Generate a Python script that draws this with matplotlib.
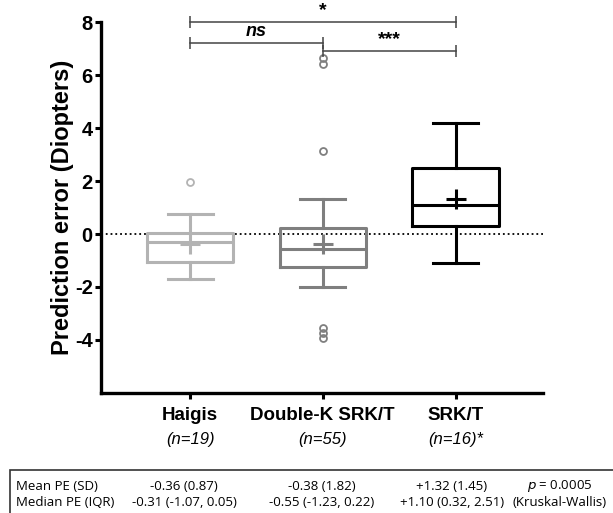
import matplotlib
matplotlib.use("Agg")
import matplotlib.pyplot as plt
import matplotlib.patches as patches

plt.rcParams['font.family'] = ['Liberation Sans', 'DejaVu Sans']
plt.rcParams['axes.unicode_minus'] = False

# data
groups = ['Haigis', 'Double-K SRK/T', 'SRK/T']
n_labels = ['(n=19)', '(n=55)', '(n=16)*']
medians = [-0.31, -0.55, 1.10]
q1s = [-1.07, -1.23, 0.32]
q3s = [0.05, 0.22, 2.51]
whis_lo = [-1.68, -2.0, -1.08]
whis_hi = [0.75, 1.33, 4.2]
means = [-0.36, -0.38, 1.32]
outliers = [[1.97], [6.65, 6.42, 3.15, -3.55, -3.72, -3.92], []]
colors = ['#b3b3b3', '#7f7f7f', '#000000']

# significance brackets: (from group, to group, height, label, italic)
brackets = [(1, 3, 8.0, '*', False), (1, 2, 7.2, 'ns', True), (2, 3, 6.9, '***', False)]

table_rows = ['Mean PE (SD)', 'Median PE (IQR)']
table_cells = [['-0.36 (0.87)', '-0.38 (1.82)', '+1.32 (1.45)', r'$\it{p}$ = 0.0005'],
               ['-0.31 (-1.07, 0.05)', '-0.55 (-1.23, 0.22)', '+1.10 (0.32, 2.51)', '(Kruskal-Wallis)']]

fig = plt.figure(figsize=(6.13, 5.13), dpi=100)
ax = fig.add_axes([0.165, 0.234, 0.721, 0.723])

for i in range(3):
    st = [{'med': medians[i], 'q1': q1s[i], 'q3': q3s[i], 'whislo': whis_lo[i],
           'whishi': whis_hi[i], 'mean': means[i], 'fliers': outliers[i]}]
    c = colors[i]
    ax.bxp(st, positions=[i + 1], widths=0.65, showmeans=True, patch_artist=False,
           boxprops=dict(color=c, lw=2.2), medianprops=dict(color=c, lw=2.2),
           whiskerprops=dict(color=c, lw=2.2), capprops=dict(color=c, lw=2.2),
           capwidths=0.34,
           meanprops=dict(marker='+', markeredgecolor=c, markersize=14, markeredgewidth=2.2),
           flierprops=dict(marker='o', markerfacecolor='none', markeredgecolor=c,
                           markersize=5, markeredgewidth=1.3))

ax.axhline(0, color='black', ls=':', lw=1.3, zorder=0)

for a, b, h, lab, it in brackets:
    ax.plot([a, b], [h, h], color='#444444', lw=1.1, marker='|', markersize=8,
            markeredgewidth=1.1, clip_on=False)
    ax.text((a + b) / 2, h + 0.12, lab, ha='center', va='bottom',
            fontsize=13 if it else 14, fontweight='bold',
            style='italic' if it else 'normal', color='black', clip_on=False)

ax.set_xlim(0.33, 3.66)
ax.set_ylim(-6, 8)
ax.set_yticks([-4, -2, 0, 2, 4, 6, 8])
ax.set_xticks([1, 2, 3])
ax.set_xticklabels(groups, fontsize=13.5, fontweight='bold')
for lbl in ax.get_yticklabels():
    lbl.set_fontweight('bold')
    lbl.set_fontsize(14.5)
ax.set_ylabel('Prediction error (Diopters)', fontsize=17, fontweight='bold', labelpad=1)
ax.tick_params(axis='both', width=2.2, length=4, direction='out')
ax.tick_params(axis='y', pad=2)
ax.tick_params(axis='x', pad=6)
for s in ['top', 'right']:
    ax.spines[s].set_visible(False)
for s in ['left', 'bottom']:
    ax.spines[s].set_linewidth(2.4)

for i, t in enumerate(n_labels):
    ax.text(i + 1, -7.75, t, ha='center', va='center', fontsize=12, style='italic',
            clip_on=False)

# summary table under the chart
W, H = 613, 513
fig.patches.append(patches.Rectangle((10 / W, -0.1), 1.0, (H - 470) / H + 0.1,
                                     transform=fig.transFigure, fill=False,
                                     edgecolor='#333333', lw=1.2))
row_y = [486, 502]
col_x = [184, 322, 452, 560]
for r in range(2):
    fig.text(16 / W, 1 - row_y[r] / H, table_rows[r], ha='left', va='center',
             fontsize=9.5, family=['Open Sans', 'DejaVu Sans'])
    for c in range(4):
        fig.text(col_x[c] / W, 1 - row_y[r] / H, table_cells[r][c], ha='center',
                 va='center', fontsize=9.5, family=['Open Sans', 'DejaVu Sans'])

fig.savefig('out.png', dpi=100, facecolor='white')
